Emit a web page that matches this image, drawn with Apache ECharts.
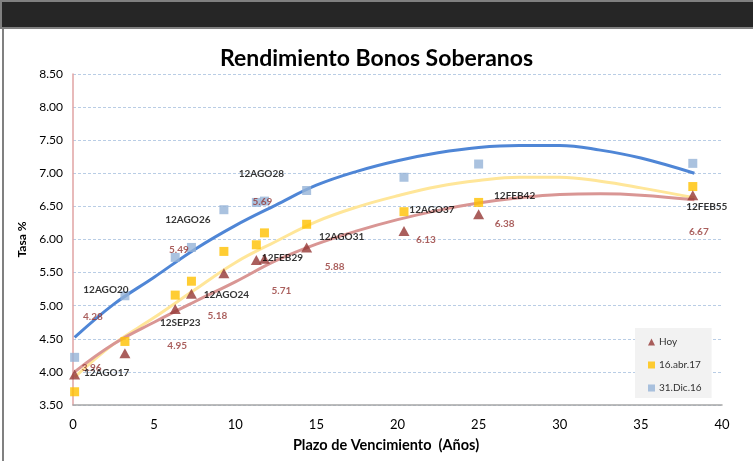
<!DOCTYPE html>
<html><head><meta charset="utf-8">
<script src="https://cdn.jsdelivr.net/npm/echarts@6/dist/echarts.min.js"></script>
<style>html,body{margin:0;padding:0;background:#fff}#c{width:753px;height:461px}</style>
</head><body><div id="c"></div>
<script>
// ---- data ----
const bonos = ['12AGO17','12AGO20','12SEP23','12AGO24','12AGO26','12AGO28','12FEB29','12AGO31','12AGO37','12FEB42','12FEB55'];
const plazo = [0.1, 3.2, 6.3, 7.3, 9.3, 11.3, 11.8, 14.4, 20.4, 25.0, 38.2];
const hoy   = [3.96, 4.28, 4.95, 5.18, 5.49, 5.69, 5.71, 5.88, 6.13, 6.38, 6.67];
const abr17 = [3.70, 4.46, 5.16, 5.37, 5.82, 5.92, 6.10, 6.23, 6.42, 6.56, 6.80];
const dic16 = [4.22, 5.15, 5.73, 5.88, 6.45, 6.56, 6.58, 6.74, 6.94, 7.14, 7.15];
// trend lines
const trendX    = [0.1, 2.5, 5, 7.5, 10, 12.5, 15, 17.5, 20, 22.5, 25, 27.5, 30, 32.5, 35, 38.3];
const trendHoy  = [4.00, 4.42, 4.75, 5.06, 5.36, 5.68, 5.93, 6.13, 6.30, 6.44, 6.55, 6.63, 6.68, 6.69, 6.67, 6.60];
const trendAbr  = [3.92, 4.42, 4.82, 5.24, 5.65, 5.97, 6.27, 6.49, 6.66, 6.80, 6.89, 6.94, 6.94, 6.88, 6.78, 6.63];
const trendDic  = [4.52, 5.02, 5.43, 5.85, 6.21, 6.52, 6.82, 7.03, 7.19, 7.31, 7.39, 7.42, 7.42, 7.35, 7.23, 7.00];
const yTicks = ['3.50','4.00','4.50','5.00','5.50','6.00','6.50','7.00','7.50','8.00','8.50'];
const xTicks = ['0','5','10','15','20','25','30','35','40'];
// label layout (pixel offsets from each point)
const dateOffsets  = [[32,-2],[-19,-64],[5,14],[35,1],[-36,-53],[5,-86],[18,-1],[35,-11],[28,-21],[36,-19],[14,12]];
const valueOffsets = [[17,-7],[-32,-37],[2,37],[26,22],[-45,-23],[6,-58],[17,32],[28,19],[22,9],[26,9],[6,37]];

const FONT = 'Lato, "Open Sans", sans-serif';
const pairs = (xs, ys) => xs.map((x, i) => [x, ys[i]]);

const chart = echarts.init(document.getElementById('c'), null, {renderer: 'canvas'});
const option = {
  animation: false,
  backgroundColor: '#ffffff',
  textStyle: {fontFamily: FONT},
  graphic: [
    {type: 'rect', shape: {x: 0, y: 0, width: 753, height: 29}, style: {fill: '#808080'}, z: 0},
    {type: 'rect', shape: {x: 2, y: 2, width: 751, height: 25}, style: {fill: '#262626'}, z: 1},
    {type: 'rect', shape: {x: 2, y: 28, width: 2, height: 433}, style: {fill: '#808080'}, z: 1}
  ],
  title: {
    text: 'Rendimiento Bonos Soberanos', left: 'center', top: 42,
    padding: [5, 5, 5, 16],
    textStyle: {fontFamily: FONT, fontSize: 23, fontWeight: 'bold', color: '#000'}
  },
  legend: {
    orient: 'vertical', left: 635, top: 328,
    data: ['Hoy', '16.abr.17', '31.Dic.16'],
    backgroundColor: '#F2F2F2',
    padding: [9, 10, 5, 13],
    itemGap: 13, itemWidth: 7, itemHeight: 7,
    textStyle: {fontFamily: FONT, fontSize: 10, color: '#333', padding: [0, 0, 0, -1]}
  },
  grid: {left: 73, right: 31, top: 74, bottom: 56},
  xAxis: {
    type: 'value', min: 0, max: 40, interval: 5,
    name: 'Plazo de Vencimiento  (Años)', nameLocation: 'middle', nameGap: 33,
    nameTextStyle: {fontFamily: FONT, fontSize: 14.5, fontWeight: 'bold', color: '#000', padding: [0, 23, 0, 0]},
    axisLine: {lineStyle: {color: '#A6A6A6', width: 1.5}},
    axisTick: {show: false},
    splitLine: {show: false},
    axisLabel: {margin: 13, fontSize: 13, color: '#000', fontFamily: FONT,
      formatter: v => xTicks[Math.round(v / 5)]}
  },
  yAxis: {
    type: 'value', min: 3.5, max: 8.5, interval: 0.5,
    name: 'Tasa %', nameLocation: 'middle', nameGap: 36, nameRotate: 90,
    nameTextStyle: {fontFamily: FONT, fontSize: 12, fontWeight: 'bold', color: '#000'},
    axisLine: {show: true, lineStyle: {color: '#E0A3A3', width: 1.5}},
    axisTick: {show: false},
    splitLine: {lineStyle: {color: '#B9CDE5', type: [3, 2], width: 1}},
    axisLabel: {margin: 10, fontSize: 12, color: '#000', fontFamily: FONT,
      formatter: v => yTicks[Math.round((v - 3.5) / 0.5)]}
  },
  series: [
    {name: 'tDic', type: 'line', smooth: 0.4, showSymbol: false, silent: true, z: 2,
     data: pairs(trendX, trendDic), lineStyle: {color: '#4F86D6', width: 3}},
    {name: 'tAbr', type: 'line', smooth: 0.4, showSymbol: false, silent: true, z: 2,
     data: pairs(trendX, trendAbr), lineStyle: {color: '#FFE699', width: 3}},
    {name: 'tHoy', type: 'line', smooth: 0.4, showSymbol: false, silent: true, z: 2,
     data: pairs(trendX, trendHoy), lineStyle: {color: '#D99694', width: 3}},
    {name: '31.Dic.16', type: 'scatter', symbol: 'rect', symbolSize: 9, z: 3,
     itemStyle: {color: '#95B3D7'}, data: pairs(plazo, dic16)},
    {name: '16.abr.17', type: 'scatter', symbol: 'rect', symbolSize: 9, z: 3,
     itemStyle: {color: '#FFC000'}, data: pairs(plazo, abr17)},
    {name: 'Hoy', type: 'scatter', symbol: 'triangle', symbolSize: [11, 10], z: 4,
     itemStyle: {color: '#953735'}, data: pairs(plazo, hoy)},
    {name: 'valLabels', type: 'scatter', symbolSize: 0, silent: true, z: 5,
     data: plazo.map((x, i) => ({value: [x, hoy[i]], label: {show: true, position: 'inside', offset: valueOffsets[i],
       formatter: hoy[i].toFixed(2), color: '#953735', fontWeight: 'bold', fontSize: 10, fontFamily: FONT}}))},
    {name: 'dateLabels', type: 'scatter', symbolSize: 0, silent: true, z: 6,
     data: plazo.map((x, i) => ({value: [x, hoy[i]], label: {show: true, position: 'inside', offset: dateOffsets[i],
       formatter: bonos[i], color: '#000', fontWeight: 'bold', fontSize: 10, fontFamily: FONT}}))}
  ]
};
chart.setOption(option);
</script></body></html>
